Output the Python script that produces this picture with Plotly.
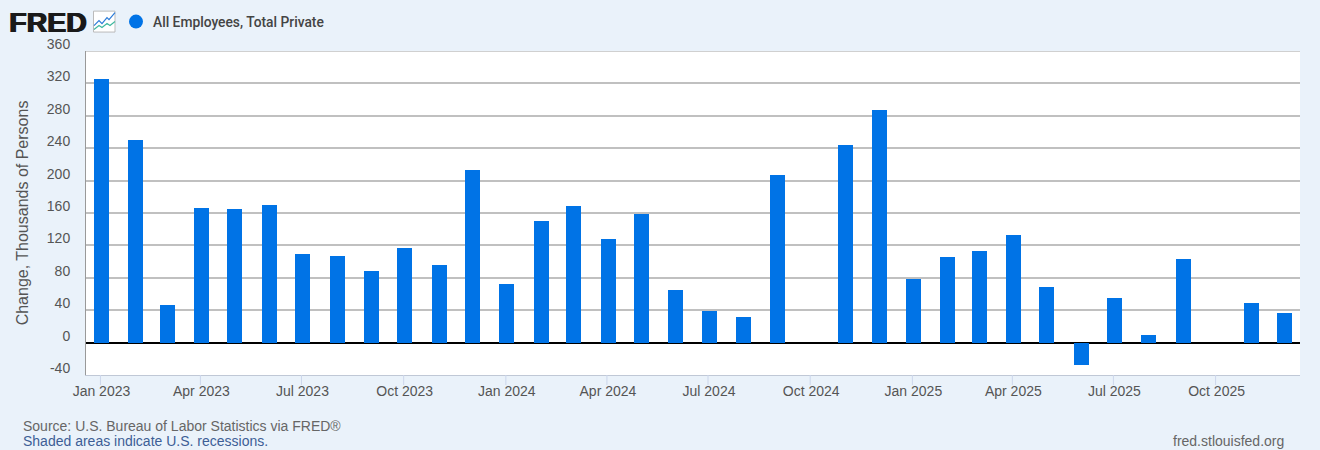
import plotly.graph_objects as go

months = ["2023-01-01","2023-02-01","2023-03-01","2023-04-01","2023-05-01","2023-06-01","2023-07-01","2023-08-01","2023-09-01","2023-10-01","2023-11-01","2023-12-01",
          "2024-01-01","2024-02-01","2024-03-01","2024-04-01","2024-05-01","2024-06-01","2024-07-01","2024-08-01","2024-09-01","2024-10-01","2024-11-01","2024-12-01",
          "2025-01-01","2025-02-01","2025-03-01","2025-04-01","2025-05-01","2025-06-01","2025-07-01","2025-08-01","2025-09-01","2025-10-01","2025-11-01","2025-12-01"]
values = [325,250,47,166,165,170,110,107,89,117,96,213,
          72,150,169,128,159,65,39,32,207,None,244,287,
          79,106,113,133,69,-28,55,10,103,None,49,37]
y_ticks = [-40,0,40,80,120,160,200,240,280,320,360]
y_labels = ["-40","0","40","80","120","160","200","240","280","320","360"]
x_ticks = months[::3]
series_name = "All Employees, Total Private"
y_title = "Change, Thousands of Persons"
x_range = ["2022-12-19","2025-12-16"]

DAY = 86400000
BG = "#EAF2FA"
BLUE = "#0073E6"
W, H = 1320, 450

fig = go.Figure(go.Bar(x=months, y=values, name=series_name, marker=dict(color=BLUE, line_width=0),
                       width=13.5*DAY, offset=-5.75*DAY, showlegend=False))

fig.update_layout(
    width=W, height=H, autosize=False,
    margin=dict(l=86, r=20, t=50.5, b=74.5, autoexpand=False),
    paper_bgcolor=BG, plot_bgcolor="white",
    font=dict(family="Liberation Sans, Arial, sans-serif", size=14, color="#555555"),
    bargap=0,
    xaxis=dict(type="date", range=x_range, tick0="2023-01-01", dtick="M3", tickformat="%b %Y",
               ticks="", ticklabelshift=1, ticklabelstandoff=3,
               showgrid=False, showline=True, linecolor="#C0C8D6", linewidth=1, zeroline=False,
               tickfont=dict(size=14, color="#555555")),
    yaxis=dict(range=[-40,360], tickmode="array", tickvals=y_ticks, ticktext=y_labels,
               showgrid=True, gridcolor="#C0C0C0", gridwidth=1.5, zeroline=True, zerolinecolor="#000000",
               zerolinewidth=2, showline=True, linecolor="#999999", linewidth=1, ticks="",
               ticklabelstandoff=12, ticklabelshift=-7,
               tickfont=dict(size=14, color="#555555"),
               title=dict(text=y_title, standoff=14, font=dict(size=16, color="#555555"))),
)

def ax_pap(xp): return (xp - 86) / (W - 86 - 20)
def ay_pap(yp): return (375.5 - yp) / (375.5 - 50.5)

def note(text, x, y, size, color, xanchor="left", family="Liberation Sans, Arial, sans-serif", weight=None, shadow=None):
    fig.add_annotation(text=text, xref="paper", yref="paper", x=ax_pap(x), y=ay_pap(y), xanchor=xanchor,
                       yanchor="middle", showarrow=False, align="left", xshift=-1,
                       font=dict(size=size, color=color, family=family, weight=weight, shadow=shadow))

note("FRED", 8, 21, 28.5, "#1A1A1A", weight=900, shadow="1px 0 0 #1A1A1A, -0.5px 0 0 #1A1A1A")
note(series_name, 152, 21, 13.8, "#444444", family="Roboto, sans-serif", weight=500)
note("Source: U.S. Bureau of Labor Statistics via FRED®", 22, 427, 14, "#666666")
note("Shaded areas indicate U.S. recessions.", 22, 442, 14, "#3D5E96")
note("fred.stlouisfed.org", 1287, 442, 14, "#666666", xanchor="right")

shapes = [
    dict(type="line", xref="paper", yref="y", x0=0, x1=1, y0=y_ticks[-1], y1=y_ticks[-1],
         line=dict(color="#C0C0C0", width=1.5)),
    dict(type="circle", xref="paper", yref="paper", x0=ax_pap(129), x1=ax_pap(143), y0=ay_pap(28), y1=ay_pap(14),
         fillcolor=BLUE, line_width=0),
    dict(type="rect", xref="paper", yref="paper", x0=ax_pap(93.5), x1=ax_pap(115), y0=ay_pap(31.5), y1=ay_pap(10.5),
         fillcolor="white", line=dict(color="#BBBBBB", width=1)),
    dict(type="path", xref="paper", yref="paper", line=dict(color="#2B7BD8", width=1.2),
         path=f"M {ax_pap(94)} {ay_pap(25)} L {ax_pap(99)} {ay_pap(20)} L {ax_pap(102)} {ay_pap(23)} L {ax_pap(107)} {ay_pap(17)} L {ax_pap(109)} {ay_pap(19)} L {ax_pap(115)} {ay_pap(12)}"),
    dict(type="path", xref="paper", yref="paper", line=dict(color="#3FB8A0", width=1.2),
         path=f"M {ax_pap(94)} {ay_pap(29)} L {ax_pap(99)} {ay_pap(25)} L {ax_pap(102)} {ay_pap(27)} L {ax_pap(107)} {ay_pap(23)} L {ax_pap(110)} {ay_pap(25)} L {ax_pap(115)} {ay_pap(21)}"),
]
for d in x_ticks:
    shapes.append(dict(type="line", xref="x", yref="paper", x0=d, x1=d, y0=0, y1=ay_pap(385.5),
                       line=dict(color="#CCD6EB", width=1), layer="above"))
fig.update_layout(shapes=shapes)

fig.write_html("out.html", config=dict(displayModeBar=False),
               post_script="document.body.style.margin='0';document.body.style.background='#EAF2FA';")
